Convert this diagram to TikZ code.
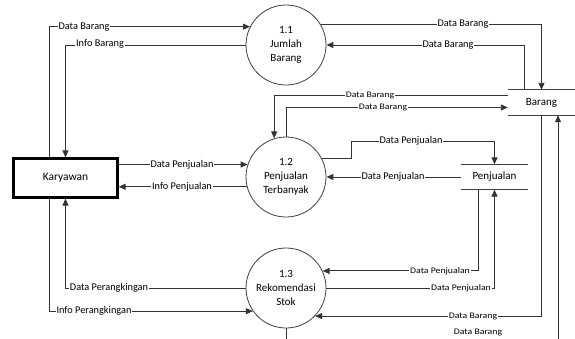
\documentclass[tikz,border=0pt]{standalone}
\usepackage{fontspec}
\setmainfont{Carlito}
\newfontfamily\widelbl[FakeStretch=1.15]{Carlito}
\usetikzlibrary{arrows.meta}

\tikzset{
  proc/.style={circle, draw=black!75, line width=0.8pt, minimum size=80pt, inner sep=0pt,
    align=center, font=\fontsize{11}{14}\selectfont},
  entity/.style={draw=black, line width=2.2pt, minimum width=104pt, minimum height=39pt,
    font=\fontsize{11.5}{14}\selectfont},
  store/.style={minimum width=67pt, minimum height=25pt, inner sep=0pt,
    font=\fontsize{11}{14}\selectfont},
  flow/.style={draw=black!80, line width=0.9pt, -{Triangle[length=7pt,width=6pt]}},
  lbl/.style={fill=white, inner sep=0.8pt, font=\fontsize{10.3}{12}\selectfont},
  slbl/.style={fill=white, inner sep=0.8pt, font=\widelbl\fontsize{8.5}{10}\selectfont}
}

\begin{document}
\begin{tikzpicture}[x=1pt, y=-1pt]
\useasboundingbox (0,0) rectangle (575,338);
\clip (0,0) rectangle (575,338);

% processes
\node[proc] (p11) at (286,45)  {1.1\\Jumlah\\Barang};
\node[proc] (p12) at (286,177) {1.2\\Penjualan\\Terbanyak};
\node[proc] (p13) at (286,288) {1.3\\Rekomendasi\\Stok};

% external entity
\node[entity] (kar) at (65.5,178) {Karyawan};

% data stores
\node[store] (barang) at (541.5,102.5) {Barang};
\draw[line width=0.8pt, black!75] (barang.north west) -- (barang.north east)
  (barang.south west) -- (barang.south east);
\node[store] (penj) at (494.5,177) {Penjualan};
\draw[line width=0.8pt, black!75] (penj.north west) -- (penj.north east)
  (penj.south west) -- (penj.south east);

% Karyawan <-> 1.1
\draw[flow] ([xshift=-16.5pt]kar.north) |- (p11.153.26);
\draw[flow] (p11.west) -| (kar.north);
% Karyawan <-> 1.2
\draw[flow] (kar.east |- p12.162.5) -- (p12.162.5);
\draw[flow] (p12.194.5) -- (kar.east |- p12.194.5);
% Karyawan <-> 1.3
\draw[flow] (p13.west) -| (kar.south);
\draw[flow] ([xshift=-16.5pt]kar.south) |- (p13.215.1);

% 1.1 <-> Barang
\draw[flow] (p11.31.7) -| (barang.north);
\draw[flow] ([xshift=-17.5pt]barang.north) |- (p11.east);
% 1.2 <-> Barang
\draw[flow] ([yshift=7.5pt]barang.west) -| (p12.107.5);
\draw[flow] (p12.north) |- ([yshift=-5pt]barang.west);
% 1.2 <-> Penjualan
\coordinate (bend) at (351,141);
\draw[flow] (p12.28.4) -| (bend) -| (penj.north);
\draw[flow] (penj.west) -- (p12.east);
% 1.3 <-> Penjualan
\draw[flow] ([xshift=-16.5pt]penj.south) |- (p13.25.2);
\draw[flow] (p13.east) -| (penj.south);
% 1.3 <-> Barang
\draw[flow] (barang.south) |- (p13.-44.4);
\coordinate (low) at (286,341);
\draw[flow] (p13.south) -- (low) -| ([xshift=16.5pt]barang.south);

% flow labels
\node[lbl] (l1) at (84,27)   {Data Barang};
\node[lbl] (l2) at (100,44)  {Info Barang};
\node[lbl] (l3) at (182,165) {Data Penjualan};
\node[lbl] (l4) at (182,187) {Info Penjualan};
\node[lbl] (l5) at (109,288) {Data Perangkingan};
\node[lbl] (l6) at (94,311)  {Info Perangkingan};
\node[lbl] (l7) at (463,24)  {Data Barang};
\node[lbl] (l8) at (448,45)  {Data Barang};
\node[slbl] (l9) at (370,95) {Data Barang};
\node[slbl] (l10) at (383,107.5) {Data Barang};
\node[lbl] (l11) at (411,141) {Data Penjualan};
\node[lbl] (l12) at (393,177) {Data Penjualan};
\node[slbl] (l13) at (440,271) {Data Penjualan};
\node[slbl] (l14) at (461,288) {Data Penjualan};
\node[slbl] (l15) at (473,316) {Data Barang};
\node[slbl] (l16) at (478,332.5) {Data Barang};
\end{tikzpicture}
\end{document}
